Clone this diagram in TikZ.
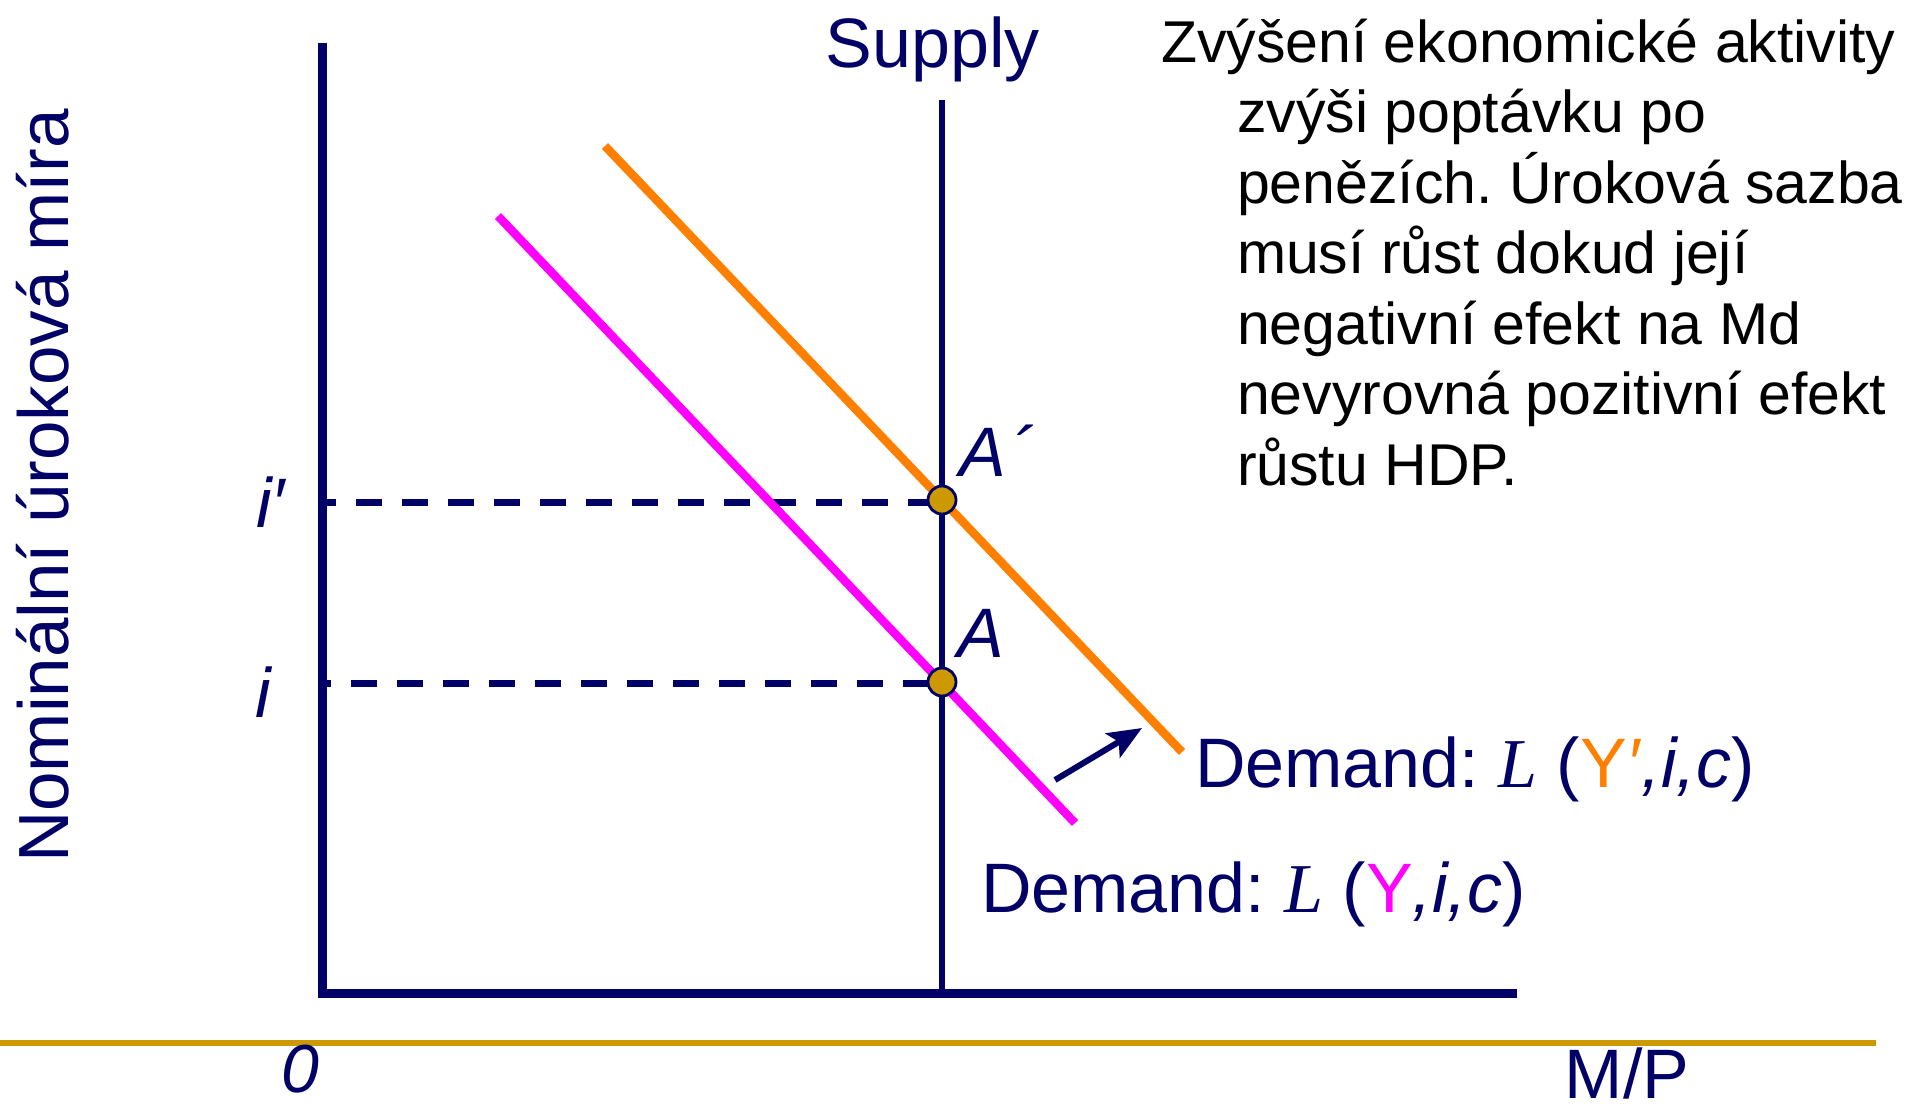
\documentclass[tikz,border=0pt]{standalone}
\usepackage{fontspec}
\setmainfont{Liberation Sans}
\newfontfamily\timesf{Liberation Serif}
\usetikzlibrary{arrows.meta}
\definecolor{navy}{RGB}{0,0,102}
\definecolor{orangeL}{RGB}{255,128,0}
\definecolor{magL}{RGB}{255,0,255}
\definecolor{goldL}{RGB}{204,153,0}
\frenchspacing
\begin{document}
\begin{tikzpicture}[x=1pt,y=-1pt,
  lbl/.style={inner sep=0pt, outer sep=0pt, text=navy, font=\fontsize{70}{84}\selectfont},
  txt/.style={inner sep=0pt, outer sep=0pt, anchor=base west, text=black, font=\fontsize{59}{70}\selectfont},
  axisline/.style={draw=navy, line width=9.5pt, line join=miter},
  pt/.style={circle, draw=navy, line width=2.8pt, fill=goldL, minimum size=28pt, inner sep=0pt},
  guide/.style={draw=navy, line width=7pt},
  curve/.style={line width=8.5pt}
]
\useasboundingbox (0,0) rectangle (1906,1109);

% coordinates
\coordinate (yt) at (322.5,42.5);
\coordinate (xr) at (1517,993.5);
\coordinate (st) at (942,100);
\coordinate (sb) at (942,994);
\coordinate (g1) at (0,1043);
\coordinate (g2) at (1876,1043);
\coordinate (o1) at (605,146);
\coordinate (o2) at (1182,752);
\coordinate (m1) at (498,216);
\coordinate (m2) at (1075,823);
\coordinate (dp1) at (327,502.5);
\coordinate (dp2) at (942,502.5);
\coordinate (d1) at (327,683);
\coordinate (d2) at (942,683);
\coordinate (ar1) at (1055,780);
\coordinate (ar2) at (1142,728);

% gold rule
\draw[draw=goldL, line width=5.5pt] (g1) -- (g2);

% axes
\draw[axisline] (yt) |- (xr);
\draw[draw=navy, line width=5.5pt] (st) -- (sb);

% dashed guides
\draw[guide, dash pattern=on 26pt off 20pt, dash phase=17pt] (dp1) -- (dp2);
\draw[guide, dash pattern=on 26pt off 20pt, dash phase=22pt] (d1) -- (d2);

% demand curves
\draw[curve, draw=magL] (m1) -- (m2);
\draw[curve, draw=orangeL] (o1) -- (o2);

% shift arrow
\draw[draw=navy, line width=6pt, -{Stealth[length=34pt,width=28pt,inset=7pt]}] (ar1) -- (ar2);

% equilibrium points
\node[pt] (Ap) at (942,500) {};
\node[pt] (A) at (942,682) {};

% labels
\node[lbl, anchor=base] (supply) at (933,67) {Supply};
\node[lbl, anchor=base west] (lAp) at (959,476) {\itshape A\hspace{6pt}´};
\node[lbl, anchor=base west] (lA) at (957,657) {\itshape A};
\node[lbl, anchor=base west] (lip) at (256,527) {\itshape i′};
\node[lbl, anchor=base west] (li) at (255,717) {\itshape i};
\node[lbl, anchor=base, font=\fontsize{68}{80}\selectfont] (zero) at (300,1092) {\itshape 0};
\node[lbl, anchor=base] (mp) at (1627,1098) {M/P};
\node[lbl, anchor=base, rotate=90, font=\fontsize{71}{84}\selectfont] (ylab) at (68,486) {Nominální úroková míra};

\node[lbl, anchor=base west] (dem2) at (1195,787) {Demand: {\timesf\itshape L} (\textcolor{orangeL}{Y\textit{′}}\textit{,i,c})};
\node[lbl, anchor=base west] (dem1) at (981,912) {Demand: {\timesf\itshape L} (\textcolor{magL}{Y}\textit{,i,c})};

% explanatory text
\node[txt] (t1) at (1161,62) {Zvýšení ekonomické aktivity};
\node[txt] (t2) at (1237,132.5) {zvýši poptávku po};
\node[txt] (t3) at (1237,203) {penězích. Úroková sazba};
\node[txt] (t4) at (1237,273.5) {musí růst dokud její};
\node[txt] (t5) at (1237,344) {negativní efekt na Md};
\node[txt] (t6) at (1237,414.5) {nevyrovná pozitivní efekt};
\node[txt] (t7) at (1237,485) {růstu HDP.};
\end{tikzpicture}
\end{document}
